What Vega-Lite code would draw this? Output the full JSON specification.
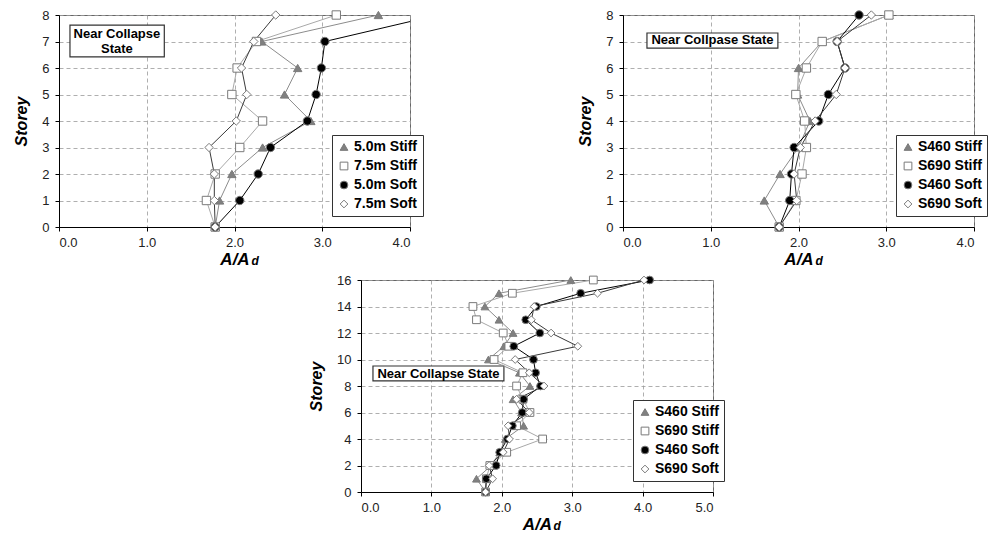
{
  "$schema": "https://vega.github.io/schema/vega-lite/v6.json",
  "background": "white",
  "padding": {"left": 13, "top": 8, "right": 0, "bottom": 0},
  "spacing": 5,
  "config": {
    "font": "Liberation Sans",
    "view": {"stroke": "#666", "strokeWidth": 1},
    "axis": {
      "labelFont": "Liberation Sans", "labelFontSize": 13, "labelColor": "#222",
      "domainColor": "#000", "tickColor": "#000", "tickSize": 4, "labelPadding": 5,
      "gridColor": "#9a9a9a", "gridDash": [4, 3], "gridWidth": 0.8,
      "titleFont": "Liberation Sans", "titleFontSize": 16, "titleFontWeight": "bold",
      "titleFontStyle": "italic", "titleColor": "#000"
    },
    "axisY": {"titlePadding": 12, "labelPadding": 6},
    "axisX": {"titlePadding": 2, "titleFontSize": 17},
    "legend": {
      "strokeColor": "#333", "fillColor": "white", "padding": 5,
      "labelFont": "Liberation Sans", "labelFontSize": 14, "labelFontWeight": "bold",
      "labelColor": "#000", "symbolSize": 60, "rowPadding": 5, "symbolStrokeWidth": 1,
      "symbolStrokeColor": "#7a7a7a", "labelOffset": 3
    }
  },
  "datasets": {
    "p1": [
      {"series": "5.0m Stiff", "storey": 0, "value": 1.78},
      {"series": "5.0m Stiff", "storey": 1, "value": 1.83},
      {"series": "5.0m Stiff", "storey": 2, "value": 1.97},
      {"series": "5.0m Stiff", "storey": 3, "value": 2.32},
      {"series": "5.0m Stiff", "storey": 4, "value": 2.87},
      {"series": "5.0m Stiff", "storey": 5, "value": 2.57},
      {"series": "5.0m Stiff", "storey": 6, "value": 2.72},
      {"series": "5.0m Stiff", "storey": 7, "value": 2.31},
      {"series": "5.0m Stiff", "storey": 8, "value": 3.64},
      {"series": "7.5m Stiff", "storey": 0, "value": 1.78},
      {"series": "7.5m Stiff", "storey": 1, "value": 1.68},
      {"series": "7.5m Stiff", "storey": 2, "value": 1.78},
      {"series": "7.5m Stiff", "storey": 3, "value": 2.06},
      {"series": "7.5m Stiff", "storey": 4, "value": 2.32},
      {"series": "7.5m Stiff", "storey": 5, "value": 1.97},
      {"series": "7.5m Stiff", "storey": 6, "value": 2.03},
      {"series": "7.5m Stiff", "storey": 7, "value": 2.25},
      {"series": "7.5m Stiff", "storey": 8, "value": 3.16},
      {"series": "5.0m Soft", "storey": 0, "value": 1.78},
      {"series": "5.0m Soft", "storey": 1, "value": 2.06},
      {"series": "5.0m Soft", "storey": 2, "value": 2.27},
      {"series": "5.0m Soft", "storey": 3, "value": 2.41},
      {"series": "5.0m Soft", "storey": 4, "value": 2.83},
      {"series": "5.0m Soft", "storey": 5, "value": 2.93},
      {"series": "5.0m Soft", "storey": 6, "value": 2.99},
      {"series": "5.0m Soft", "storey": 7, "value": 3.03},
      {"series": "5.0m Soft", "storey": 8, "value": 4.32},
      {"series": "7.5m Soft", "storey": 0, "value": 1.78},
      {"series": "7.5m Soft", "storey": 1, "value": 1.77},
      {"series": "7.5m Soft", "storey": 2, "value": 1.77},
      {"series": "7.5m Soft", "storey": 3, "value": 1.71},
      {"series": "7.5m Soft", "storey": 4, "value": 2.02},
      {"series": "7.5m Soft", "storey": 5, "value": 2.14},
      {"series": "7.5m Soft", "storey": 6, "value": 2.08},
      {"series": "7.5m Soft", "storey": 7, "value": 2.22},
      {"series": "7.5m Soft", "storey": 8, "value": 2.47}
    ],
    "p2": [
      {"series": "S460 Stiff", "storey": 0, "value": 1.78},
      {"series": "S460 Stiff", "storey": 1, "value": 1.61},
      {"series": "S460 Stiff", "storey": 2, "value": 1.79},
      {"series": "S460 Stiff", "storey": 3, "value": 2.0},
      {"series": "S460 Stiff", "storey": 4, "value": 2.13},
      {"series": "S460 Stiff", "storey": 5, "value": 1.99},
      {"series": "S460 Stiff", "storey": 6, "value": 2.0},
      {"series": "S460 Stiff", "storey": 7, "value": 2.27},
      {"series": "S460 Stiff", "storey": 8, "value": 3.03},
      {"series": "S690 Stiff", "storey": 0, "value": 1.78},
      {"series": "S690 Stiff", "storey": 1, "value": 1.97},
      {"series": "S690 Stiff", "storey": 2, "value": 2.04},
      {"series": "S690 Stiff", "storey": 3, "value": 2.09},
      {"series": "S690 Stiff", "storey": 4, "value": 2.07},
      {"series": "S690 Stiff", "storey": 5, "value": 1.97},
      {"series": "S690 Stiff", "storey": 6, "value": 2.09},
      {"series": "S690 Stiff", "storey": 7, "value": 2.27},
      {"series": "S690 Stiff", "storey": 8, "value": 3.03},
      {"series": "S460 Soft", "storey": 0, "value": 1.78},
      {"series": "S460 Soft", "storey": 1, "value": 1.9},
      {"series": "S460 Soft", "storey": 2, "value": 1.92},
      {"series": "S460 Soft", "storey": 3, "value": 1.95},
      {"series": "S460 Soft", "storey": 4, "value": 2.23},
      {"series": "S460 Soft", "storey": 5, "value": 2.34},
      {"series": "S460 Soft", "storey": 6, "value": 2.53},
      {"series": "S460 Soft", "storey": 7, "value": 2.44},
      {"series": "S460 Soft", "storey": 8, "value": 2.69},
      {"series": "S690 Soft", "storey": 0, "value": 1.78},
      {"series": "S690 Soft", "storey": 1, "value": 1.98},
      {"series": "S690 Soft", "storey": 2, "value": 1.95},
      {"series": "S690 Soft", "storey": 3, "value": 2.02},
      {"series": "S690 Soft", "storey": 4, "value": 2.19},
      {"series": "S690 Soft", "storey": 5, "value": 2.43},
      {"series": "S690 Soft", "storey": 6, "value": 2.53},
      {"series": "S690 Soft", "storey": 7, "value": 2.44},
      {"series": "S690 Soft", "storey": 8, "value": 2.83}
    ],
    "p3": [
      {"series": "S460 Stiff", "storey": 0, "value": 1.77},
      {"series": "S460 Stiff", "storey": 1, "value": 1.64},
      {"series": "S460 Stiff", "storey": 2, "value": 1.85},
      {"series": "S460 Stiff", "storey": 3, "value": 1.97},
      {"series": "S460 Stiff", "storey": 4, "value": 2.05},
      {"series": "S460 Stiff", "storey": 5, "value": 2.31},
      {"series": "S460 Stiff", "storey": 6, "value": 2.28},
      {"series": "S460 Stiff", "storey": 7, "value": 2.16},
      {"series": "S460 Stiff", "storey": 8, "value": 2.4},
      {"series": "S460 Stiff", "storey": 9, "value": 2.25},
      {"series": "S460 Stiff", "storey": 10, "value": 1.81},
      {"series": "S460 Stiff", "storey": 11, "value": 2.03},
      {"series": "S460 Stiff", "storey": 12, "value": 2.16},
      {"series": "S460 Stiff", "storey": 13, "value": 1.96},
      {"series": "S460 Stiff", "storey": 14, "value": 1.76},
      {"series": "S460 Stiff", "storey": 15, "value": 1.96},
      {"series": "S460 Stiff", "storey": 16, "value": 2.98},
      {"series": "S690 Stiff", "storey": 0, "value": 1.77},
      {"series": "S690 Stiff", "storey": 1, "value": 1.78},
      {"series": "S690 Stiff", "storey": 2, "value": 1.83},
      {"series": "S690 Stiff", "storey": 3, "value": 2.07},
      {"series": "S690 Stiff", "storey": 4, "value": 2.58},
      {"series": "S690 Stiff", "storey": 5, "value": 2.21},
      {"series": "S690 Stiff", "storey": 6, "value": 2.4},
      {"series": "S690 Stiff", "storey": 7, "value": 2.3},
      {"series": "S690 Stiff", "storey": 8, "value": 2.21},
      {"series": "S690 Stiff", "storey": 9, "value": 2.3},
      {"series": "S690 Stiff", "storey": 10, "value": 1.89},
      {"series": "S690 Stiff", "storey": 11, "value": 2.1},
      {"series": "S690 Stiff", "storey": 12, "value": 2.02},
      {"series": "S690 Stiff", "storey": 13, "value": 1.64},
      {"series": "S690 Stiff", "storey": 14, "value": 1.59},
      {"series": "S690 Stiff", "storey": 15, "value": 2.15},
      {"series": "S690 Stiff", "storey": 16, "value": 3.3},
      {"series": "S460 Soft", "storey": 0, "value": 1.77},
      {"series": "S460 Soft", "storey": 1, "value": 1.78},
      {"series": "S460 Soft", "storey": 2, "value": 1.92},
      {"series": "S460 Soft", "storey": 3, "value": 1.97},
      {"series": "S460 Soft", "storey": 4, "value": 2.08},
      {"series": "S460 Soft", "storey": 5, "value": 2.15},
      {"series": "S460 Soft", "storey": 6, "value": 2.29},
      {"series": "S460 Soft", "storey": 7, "value": 2.31},
      {"series": "S460 Soft", "storey": 8, "value": 2.55},
      {"series": "S460 Soft", "storey": 9, "value": 2.48},
      {"series": "S460 Soft", "storey": 10, "value": 2.45},
      {"series": "S460 Soft", "storey": 11, "value": 2.17},
      {"series": "S460 Soft", "storey": 12, "value": 2.54},
      {"series": "S460 Soft", "storey": 13, "value": 2.34},
      {"series": "S460 Soft", "storey": 14, "value": 2.49},
      {"series": "S460 Soft", "storey": 15, "value": 3.12},
      {"series": "S460 Soft", "storey": 16, "value": 4.1},
      {"series": "S690 Soft", "storey": 0, "value": 1.77},
      {"series": "S690 Soft", "storey": 1, "value": 1.87},
      {"series": "S690 Soft", "storey": 2, "value": 1.82},
      {"series": "S690 Soft", "storey": 3, "value": 2.02},
      {"series": "S690 Soft", "storey": 4, "value": 2.11},
      {"series": "S690 Soft", "storey": 5, "value": 2.09},
      {"series": "S690 Soft", "storey": 6, "value": 2.39},
      {"series": "S690 Soft", "storey": 7, "value": 2.21},
      {"series": "S690 Soft", "storey": 8, "value": 2.6},
      {"series": "S690 Soft", "storey": 9, "value": 2.39},
      {"series": "S690 Soft", "storey": 10, "value": 2.19},
      {"series": "S690 Soft", "storey": 11, "value": 3.08},
      {"series": "S690 Soft", "storey": 12, "value": 2.7},
      {"series": "S690 Soft", "storey": 13, "value": 2.42},
      {"series": "S690 Soft", "storey": 14, "value": 2.46},
      {"series": "S690 Soft", "storey": 15, "value": 3.36},
      {"series": "S690 Soft", "storey": 16, "value": 4.02}
    ]
  },
  "resolve": {
    "scale": {"color": "independent", "shape": "independent", "stroke": "independent"},
    "legend": {"color": "independent", "shape": "independent", "stroke": "independent"}
  },
  "vconcat": [
    {
      "resolve": {
        "scale": {"color": "independent", "shape": "independent", "stroke": "independent"},
        "legend": {"color": "independent", "shape": "independent", "stroke": "independent"}
      },
      "hconcat": [
        {
          "width": 351, "height": 212,
          "resolve": {"axis": {"x": "independent"}},
          "layer": [
            {
              "data": {"values": [{"note": "Near Collapse\nState"}]},
              "layer": [
                {"mark": {"type": "rect", "fill": "white", "stroke": "#333", "strokeWidth": 1.2},
                 "encoding": {"x": {"datum": 0.125, "type": "quantitative", "axis": null}, "x2": {"datum": 1.2},
                              "y": {"datum": 6.42, "type": "quantitative", "title": "Storey", "axis": {"values": [0, 1, 2, 3, 4, 5, 6, 7, 8], "grid": true}}, "y2": {"datum": 7.62}}},
                {"mark": {"type": "text", "fontWeight": "bold", "fontSize": 13, "lineBreak": "\n", "lineHeight": 15, "baseline": "middle", "color": "#000"},
                 "encoding": {"text": {"field": "note"}, "x": {"datum": 0.66, "type": "quantitative", "axis": null},
                              "y": {"datum": 7.28, "type": "quantitative", "title": "Storey", "axis": {"values": [0, 1, 2, 3, 4, 5, 6, 7, 8], "grid": true}}}}
              ]
            },
            {
              "data": {"name": "p1"},
              "mark": {"type": "line", "strokeWidth": 1, "clip": true},
              "encoding": {
                "x": {"field": "value", "type": "quantitative", "scale": {"domain": [0, 4], "nice": false},
                      "axis": {"title": "A/A", "orient": "bottom", "values": [0, 1, 2, 3, 4], "format": ".1f", "grid": true}},
                "y": {"field": "storey", "type": "quantitative", "title": "Storey", "scale": {"domain": [0, 8], "nice": false},
                      "axis": {"values": [0, 1, 2, 3, 4, 5, 6, 7, 8], "grid": true}},
                "stroke": {"field": "series", "type": "nominal", "legend": null,
                          "scale": {"domain": ["7.5m Soft", "5.0m Soft", "7.5m Stiff", "5.0m Stiff"], "range": ["#3a3a3a", "#000000", "#a8a8a8", "#8c8c8c"]}},
                "order": {"field": "storey", "type": "quantitative"}
              }
            },
            {
              "data": {"name": "p1"},
              "transform": [{"filter": "datum.value <= 4"}],
              "mark": {"type": "point", "filled": true, "size": 70, "stroke": "#7a7a7a", "strokeWidth": 1, "opacity": 1},
              "encoding": {
                "x": {"field": "value", "type": "quantitative",
                      "axis": {"title": "d", "orient": "bottom", "labels": false, "ticks": false, "domain": false, "grid": false, "titleFontSize": 12, "titleX": 192, "titleY": 28, "titleAlign": "left", "titleBaseline": "top"}},
                "y": {"field": "storey", "type": "quantitative", "title": "Storey", "axis": {"values": [0, 1, 2, 3, 4, 5, 6, 7, 8], "grid": true}},
                "shape": {"field": "series", "type": "nominal",
                          "scale": {"domain": ["5.0m Stiff", "7.5m Stiff", "5.0m Soft", "7.5m Soft"], "range": ["triangle-up", "square", "circle", "diamond"]},
                          "legend": {"title": null, "orient": "none", "legendX": 273, "legendY": 120}},
                "color": {"field": "series", "type": "nominal",
                         "scale": {"domain": ["5.0m Stiff", "7.5m Stiff", "5.0m Soft", "7.5m Soft"], "range": ["#808080", "#ffffff", "#000000", "#ffffff"]},
                         "legend": {"title": null, "orient": "none", "legendX": 273, "legendY": 120}}
              }
            }
          ]
        },
        {
          "width": 351, "height": 212,
          "resolve": {"axis": {"x": "independent"}},
          "layer": [
            {
              "data": {"values": [{"note": "Near Collpase State"}]},
              "layer": [
                {"mark": {"type": "rect", "fill": "white", "stroke": "#333", "strokeWidth": 1.2},
                 "encoding": {"x": {"datum": 0.273, "type": "quantitative", "axis": null}, "x2": {"datum": 1.765},
                              "y": {"datum": 6.75, "type": "quantitative", "title": "Storey", "axis": {"values": [0, 1, 2, 3, 4, 5, 6, 7, 8], "grid": true}}, "y2": {"datum": 7.32}}},
                {"mark": {"type": "text", "fontWeight": "bold", "fontSize": 13, "baseline": "middle", "color": "#000"},
                 "encoding": {"text": {"field": "note"}, "x": {"datum": 1.02, "type": "quantitative", "axis": null},
                              "y": {"datum": 7.04, "type": "quantitative", "title": "Storey", "axis": {"values": [0, 1, 2, 3, 4, 5, 6, 7, 8], "grid": true}}}}
              ]
            },
            {
              "data": {"name": "p2"},
              "mark": {"type": "line", "strokeWidth": 1, "clip": true},
              "encoding": {
                "x": {"field": "value", "type": "quantitative", "scale": {"domain": [0, 4], "nice": false},
                      "axis": {"title": "A/A", "orient": "bottom", "values": [0, 1, 2, 3, 4], "format": ".1f", "grid": true}},
                "y": {"field": "storey", "type": "quantitative", "title": "Storey", "scale": {"domain": [0, 8], "nice": false},
                      "axis": {"values": [0, 1, 2, 3, 4, 5, 6, 7, 8], "grid": true}},
                "stroke": {"field": "series", "type": "nominal", "legend": null,
                          "scale": {"domain": ["S690 Soft", "S460 Soft", "S690 Stiff", "S460 Stiff"], "range": ["#3a3a3a", "#000000", "#a8a8a8", "#8c8c8c"]}},
                "order": {"field": "storey", "type": "quantitative"}
              }
            },
            {
              "data": {"name": "p2"},
              "mark": {"type": "point", "filled": true, "size": 70, "stroke": "#7a7a7a", "strokeWidth": 1, "opacity": 1},
              "encoding": {
                "x": {"field": "value", "type": "quantitative",
                      "axis": {"title": "d", "orient": "bottom", "labels": false, "ticks": false, "domain": false, "grid": false, "titleFontSize": 12, "titleX": 192, "titleY": 28, "titleAlign": "left", "titleBaseline": "top"}},
                "y": {"field": "storey", "type": "quantitative", "title": "Storey", "axis": {"values": [0, 1, 2, 3, 4, 5, 6, 7, 8], "grid": true}},
                "shape": {"field": "series", "type": "nominal",
                          "scale": {"domain": ["S460 Stiff", "S690 Stiff", "S460 Soft", "S690 Soft"], "range": ["triangle-up", "square", "circle", "diamond"]},
                          "legend": {"title": null, "orient": "none", "legendX": 273, "legendY": 120}},
                "color": {"field": "series", "type": "nominal",
                         "scale": {"domain": ["S460 Stiff", "S690 Stiff", "S460 Soft", "S690 Soft"], "range": ["#808080", "#ffffff", "#000000", "#ffffff"]},
                         "legend": {"title": null, "orient": "none", "legendX": 273, "legendY": 120}}
              }
            }
          ]
        }
      ],
      "spacing": 213,
      "bounds": "flush"
    },
    {
      "resolve": {
        "scale": {"color": "independent", "shape": "independent", "stroke": "independent"},
        "legend": {"color": "independent", "shape": "independent", "stroke": "independent"}
      },
      "hconcat": [
        {
          "width": 1, "height": 212,
          "view": {"stroke": null},
          "data": {"values": [{}]},
          "mark": {"type": "text"},
          "encoding": {}
        },
        {
          "width": 352, "height": 212,
          "resolve": {"axis": {"x": "independent"}},
          "layer": [
            {
              "data": {"values": [{"note": "Near Collapse State"}]},
              "layer": [
                {"mark": {"type": "rect", "fill": "white", "stroke": "#333", "strokeWidth": 1.2},
                 "encoding": {"x": {"datum": 0.17, "type": "quantitative", "axis": null}, "x2": {"datum": 2.03},
                              "y": {"datum": 8.38, "type": "quantitative", "title": "Storey", "axis": {"values": [0, 2, 4, 6, 8, 10, 12, 14, 16], "grid": true}}, "y2": {"datum": 9.51}}},
                {"mark": {"type": "text", "fontWeight": "bold", "fontSize": 13, "baseline": "middle", "color": "#000"},
                 "encoding": {"text": {"field": "note"}, "x": {"datum": 1.1, "type": "quantitative", "axis": null},
                              "y": {"datum": 8.94, "type": "quantitative", "title": "Storey", "axis": {"values": [0, 2, 4, 6, 8, 10, 12, 14, 16], "grid": true}}}}
              ]
            },
            {
              "data": {"name": "p3"},
              "mark": {"type": "line", "strokeWidth": 1, "clip": true},
              "encoding": {
                "x": {"field": "value", "type": "quantitative", "scale": {"domain": [0, 5], "nice": false},
                      "axis": {"title": "A/A", "orient": "bottom", "values": [0, 1, 2, 3, 4, 5], "format": ".1f", "grid": true}},
                "y": {"field": "storey", "type": "quantitative", "title": "Storey", "scale": {"domain": [0, 16], "nice": false},
                      "axis": {"values": [0, 2, 4, 6, 8, 10, 12, 14, 16], "grid": true}},
                "stroke": {"field": "series", "type": "nominal", "legend": null,
                          "scale": {"domain": ["S690 Soft", "S460 Soft", "S690 Stiff", "S460 Stiff"], "range": ["#3a3a3a", "#000000", "#a8a8a8", "#8c8c8c"]}},
                "order": {"field": "storey", "type": "quantitative"}
              }
            },
            {
              "data": {"name": "p3"},
              "mark": {"type": "point", "filled": true, "size": 60, "stroke": "#7a7a7a", "strokeWidth": 1, "opacity": 1},
              "encoding": {
                "x": {"field": "value", "type": "quantitative",
                      "axis": {"title": "d", "orient": "bottom", "labels": false, "ticks": false, "domain": false, "grid": false, "titleFontSize": 12, "titleX": 192, "titleY": 28, "titleAlign": "left", "titleBaseline": "top"}},
                "y": {"field": "storey", "type": "quantitative", "title": "Storey", "axis": {"values": [0, 2, 4, 6, 8, 10, 12, 14, 16], "grid": true}},
                "shape": {"field": "series", "type": "nominal",
                          "scale": {"domain": ["S460 Stiff", "S690 Stiff", "S460 Soft", "S690 Soft"], "range": ["triangle-up", "square", "circle", "diamond"]},
                          "legend": {"title": null, "orient": "none", "legendX": 272, "legendY": 120}},
                "color": {"field": "series", "type": "nominal",
                         "scale": {"domain": ["S460 Stiff", "S690 Stiff", "S460 Soft", "S690 Soft"], "range": ["#808080", "#ffffff", "#000000", "#ffffff"]},
                         "legend": {"title": null, "orient": "none", "legendX": 272, "legendY": 120}}
              }
            }
          ]
        }
      ],
      "spacing": 301,
      "bounds": "flush"
    }
  ]
}
